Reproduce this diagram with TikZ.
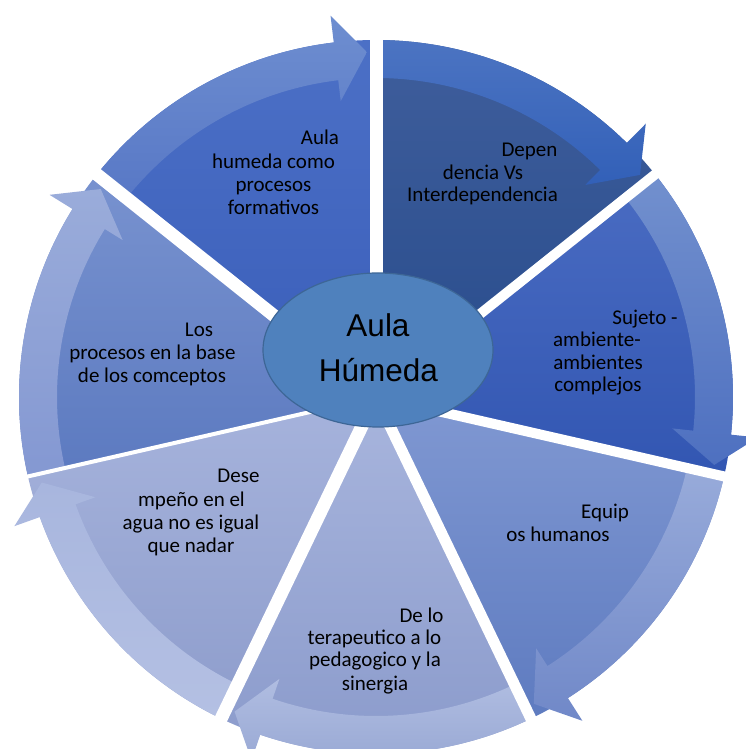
\documentclass[tikz,border=0pt]{standalone}
\usepackage{fontspec}
\setmainfont{Carlito}
\newfontfamily\hubfont{Liberation Sans}
\usetikzlibrary{shapes.geometric}
\definecolor{sAtop}{HTML}{4C70C6}\definecolor{sAbot}{HTML}{3A5EBA}\definecolor{bAtop}{HTML}{6E8ED0}\definecolor{bAbot}{HTML}{5878C6}
\definecolor{sBtop}{HTML}{3F5E9C}\definecolor{sBbot}{HTML}{284C8C}\definecolor{bBtop}{HTML}{4C74C2}\definecolor{bBbot}{HTML}{3260B8}
\definecolor{sCtop}{HTML}{4A6CC2}\definecolor{sCbot}{HTML}{3256B2}\definecolor{bCtop}{HTML}{7290CE}\definecolor{bCbot}{HTML}{4E70C0}
\definecolor{sDtop}{HTML}{8098D2}\definecolor{sDbot}{HTML}{5E7BC0}\definecolor{bDtop}{HTML}{98ABDA}\definecolor{bDbot}{HTML}{7088C8}
\definecolor{sEtop}{HTML}{A8B5DD}\definecolor{sEbot}{HTML}{8A9ACB}\definecolor{bEtop}{HTML}{B0BDE1}\definecolor{bEbot}{HTML}{98A8D4}
\definecolor{sFtop}{HTML}{A6B3DC}\definecolor{sFbot}{HTML}{8E9DCC}\definecolor{bFtop}{HTML}{A8B6DE}\definecolor{bFbot}{HTML}{B4C0E3}
\definecolor{sGtop}{HTML}{7892CF}\definecolor{sGbot}{HTML}{5C7AC0}\definecolor{bGtop}{HTML}{9AACDA}\definecolor{bGbot}{HTML}{8498D2}
\definecolor{hubfill}{HTML}{4F81BD}\definecolor{hubline}{HTML}{3D6696}
\newcommand\PieSlice[4]{%
  \shade[top color=#3,bottom color=#4] (0,0) -- (#1:357) arc[start angle=#1,end angle=#2,radius=357] -- cycle;}
\newcommand\PieBand[4]{%
  \pgfmathsetmacro\bAng{#2+6.8}\pgfmathsetmacro\tAng{#2+1.5}%
  \shade[top color=#3,bottom color=#4] (#1:319) -- (#1:357) arc[start angle=#1,end angle=\bAng,radius=357]
    -- (\bAng:384) -- (\tAng:345) -- (\bAng:298) -- (\bAng:319)
    arc[start angle=\bAng,end angle=#1,radius=319] -- cycle;}
\tikzset{lbl/.style={anchor=base,inner sep=0,font=\fontsize{21}{24}\selectfont,text=black},
  hub/.style={draw=hubline,fill=hubfill,line width=1.2pt,ellipse,minimum width=230,minimum height=154,inner sep=0},
  hubtxt/.style={anchor=base,inner sep=0,font=\hubfont\fontsize{31.5}{36}\selectfont,text=black},
  gap/.style={draw=white,line cap=butt}}
\begin{document}
\begin{tikzpicture}[x=1pt,y=1pt]
\useasboundingbox (0,0) rectangle (746,749);
\clip (0,0) rectangle (746,749);
\fill[white] (0,0) rectangle (746,749);
\coordinate (C) at (376,352);
\begin{scope}[shift={(C)}]
  \PieSlice{90}{38.571}{sBtop}{sBbot}
  \PieSlice{38.571}{-12.857}{sCtop}{sCbot}
  \PieSlice{-12.857}{-64.286}{sDtop}{sDbot}
  \PieSlice{-64.286}{-115.714}{sEtop}{sEbot}
  \PieSlice{-115.714}{-167.143}{sFtop}{sFbot}
  \PieSlice{-167.143}{-218.571}{sGtop}{sGbot}
  \PieSlice{141.429}{90}{sAtop}{sAbot}
  \PieBand{90}{38.571}{bBtop}{bBbot}
  \PieBand{38.571}{-12.857}{bCtop}{bCbot}
  \PieBand{-12.857}{-64.286}{bDtop}{bDbot}
  \PieBand{-64.286}{-115.714}{bEtop}{bEbot}
  \PieBand{-115.714}{-167.143}{bFtop}{bFbot}
  \PieBand{-167.143}{-218.571}{bGtop}{bGbot}
  \PieBand{141.429}{90}{bAtop}{bAbot}
  \coordinate (g0) at (90:358);
  \coordinate (g1) at (38.571:358);
  \coordinate (g2) at (-12.857:358);
  \coordinate (g3) at (-64.286:358);
  \coordinate (g4) at (-115.714:358);
  \coordinate (g5) at (-167.143:358);
  \coordinate (g6) at (141.429:358);
  \coordinate (o) at (0,0);
  \draw[gap,line width=13] (o) -- (g0);
  \draw[gap,line width=10] (o) -- (g1);
  \draw[gap,line width=10] (o) -- (g2);
  \draw[gap,line width=11] (o) -- (g3);
  \draw[gap,line width=13] (o) -- (g4);
  \draw[gap,line width=4] (o) -- (g5);
  \draw[gap,line width=13] (o) -- (g6);
\end{scope}
\node[hub] (hubnode) at (378,399) {};
\node[hubtxt] (hubA) at (378,412) {Aula};
\node[hubtxt] (hubB) at (378.5,367) {Húmeda};
% slice texts
\node[lbl] (a1) at (320,604) {Aula};
\node[lbl] (a2) at (273.5,580) {humeda como};
\node[lbl] (a3) at (273.5,557) {procesos};
\node[lbl] (a4) at (273.5,534) {formativos};
\node[lbl] (b1) at (529.5,592) {Depen};
\node[lbl] (b2) at (483,569) {dencia Vs};
\node[lbl] (b3) at (482.5,547) {Interdependencia};
\node[lbl] (c1) at (645,424) {Sujeto -};
\node[lbl] (c2) at (597,402) {ambiente-};
\node[lbl] (c3) at (598,379) {ambientes};
\node[lbl] (c4) at (598,357) {complejos};
\node[lbl] (d1) at (605,230) {Equip};
\node[lbl] (d2) at (558,207) {os humanos};
\node[lbl] (e1) at (421.5,126) {De lo};
\node[lbl] (e2) at (374.5,104) {terapeutico a lo};
\node[lbl] (e3) at (375,82) {pedagogico y la};
\node[lbl] (e4) at (375,58) {sinergia};
\node[lbl] (f1) at (238.5,266) {Dese};
\node[lbl] (f2) at (191.5,242) {mpeño en el};
\node[lbl] (f3) at (191,219) {agua no es igual};
\node[lbl] (f4) at (191,196) {que nadar};
\node[lbl] (h1) at (199,412) {Los};
\node[lbl] (h2) at (152.5,389) {procesos en la base};
\node[lbl] (h3) at (152,366) {de los comceptos};
\end{tikzpicture}
\end{document}
